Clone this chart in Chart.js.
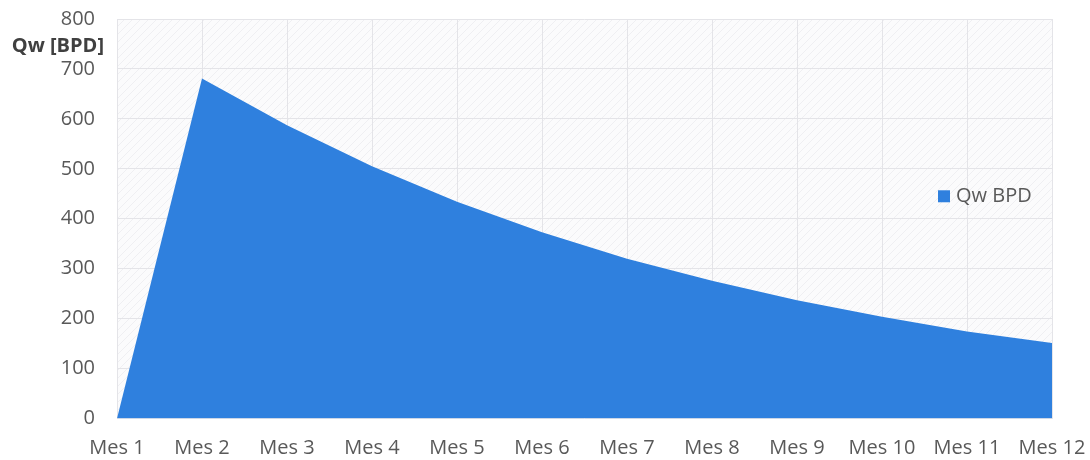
<!DOCTYPE html>
<html>
<head>
<meta charset="utf-8">
<script src="https://cdn.jsdelivr.net/npm/chart.js@4/dist/chart.umd.min.js"></script>
<style>
  body { margin: 0; background: #fff; }
</style>
</head>
<body>
<canvas id="chart" width="1090" height="460"></canvas>
<script>
var meses = ['Mes 1', 'Mes 2', 'Mes 3', 'Mes 4', 'Mes 5', 'Mes 6', 'Mes 7', 'Mes 8', 'Mes 9', 'Mes 10', 'Mes 11', 'Mes 12'];
var qwBpd = [0, 681, 587, 505, 434, 373, 320, 276, 237, 204, 174, 151];
var serieNombre = 'Qw BPD';
var ejeTitulo = 'Qw [BPD]';

var azul = '#2f80de';
var gris = '#595959';

// fondo rayado suave del area del grafico
function hatch(){
    var c = document.createElement('canvas');
    c.width = 8; c.height = 8;
    var g = c.getContext('2d');
    g.fillStyle = '#fbfbfc';
    g.fillRect(0, 0, 8, 8);
    g.strokeStyle = '#efeff2';
    g.lineWidth = 1;
    g.beginPath();
    g.moveTo(0, 8); g.lineTo(8, 0);
    g.moveTo(-4, 4); g.lineTo(4, -4);
    g.moveTo(4, 12); g.lineTo(12, 4);
    g.stroke();
    return c;
}

var extras = {
    id: 'extras',
    beforeDraw: function(chart){
        var a = chart.chartArea, ctx = chart.ctx;
        ctx.save();
        ctx.fillStyle = ctx.createPattern(hatch(), 'repeat');
        ctx.fillRect(a.left, a.top, a.right - a.left, a.bottom - a.top);
        ctx.restore();
    },
    afterDraw: function(chart){
        var a = chart.chartArea, ctx = chart.ctx;
        var y = chart.scales.y;
        ctx.save();
        // titulo del eje
        ctx.font = 'bold 20px "Open Sans"';
        ctx.fillStyle = '#404040';
        ctx.textAlign = 'right';
        ctx.textBaseline = 'middle';
        ctx.fillText(ejeTitulo, a.left - 13, y.getPixelForValue(745));
        // leyenda
        var lx = a.right - 114, ly = y.getPixelForValue(445);
        ctx.fillStyle = azul;
        ctx.fillRect(lx, ly - 6, 12, 12);
        ctx.font = '20px "Open Sans"';
        ctx.fillStyle = gris;
        ctx.textAlign = 'left';
        ctx.fillText(serieNombre, lx + 18, ly);
        ctx.restore();
    }
};

var ctx = document.getElementById('chart').getContext('2d');
var myChart = new Chart(ctx, {
    type: 'line',
    data: {
        labels: meses,
        datasets: [{
            label: serieNombre,
            data: qwBpd,
            fill: 'origin',
            backgroundColor: azul,
            borderColor: azul,
            borderWidth: 0,
            pointRadius: 0,
            tension: 0
        }]
    },
    options: {
        responsive: false,
        animation: false,
        layout: {
            padding: { top: 19, right: 38, left: 0, bottom: 0 }
        },
        plugins: {
            legend: { display: false },
            tooltip: { enabled: false }
        },
        scales: {
            x: {
                offset: false,
                grid: { color: '#e4e4e8', drawTicks: false },
                border: { display: false },
                ticks: {
                    color: gris,
                    padding: 18,
                    maxRotation: 0,
                    font: { family: '"Open Sans"', size: 20 }
                },
                afterFit: function(s){
                    s.height = 41.5;
                    s.paddingLeft = 0;
                    s.paddingRight = 0;
                }
            },
            y: {
                min: 0,
                max: 800,
                grid: { color: '#e4e4e8', drawTicks: false },
                border: { display: false },
                ticks: {
                    stepSize: 100,
                    color: gris,
                    padding: 22,
                    font: { family: '"Open Sans"', size: 20 }
                },
                afterFit: function(s){
                    s.width = 117;
                    s.paddingTop = 0;
                    s.paddingBottom = 0;
                }
            }
        }
    },
    plugins: [extras]
});
</script>
</body>
</html>
